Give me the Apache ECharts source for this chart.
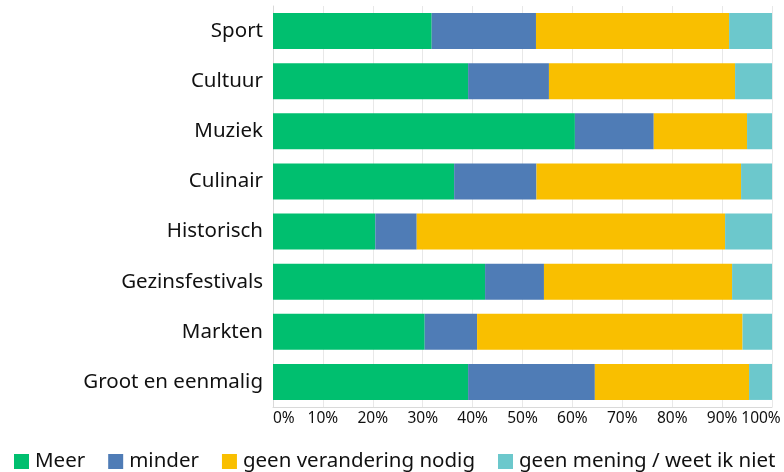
<!DOCTYPE html>
<html>
<head>
<meta charset="utf-8">
<script src="https://cdn.jsdelivr.net/npm/echarts@6/dist/echarts.min.js"></script>
<style>
  html, body { margin: 0; padding: 0; background: #fff; }
  #chart { width: 784px; height: 472px; }
</style>
</head>
<body>
<div id="chart"></div>
<script>
// categorieen, van boven naar beneden
var categories = ['Sport', 'Cultuur', 'Muziek', 'Culinair', 'Historisch', 'Gezinsfestivals', 'Markten', 'Groot en eenmalig'];
var seriesNames = ['Meer', 'minder', 'geen verandering nodig', 'geen mening / weet ik niet'];

// percentages per categorie
var meer = [31.8, 39.1, 60.5, 36.3, 20.5, 42.5, 30.4, 39.1];
var minder = [20.9, 16.2, 15.8, 16.5, 8.3, 11.8, 10.5, 25.4];
var geenVerandering = [38.7, 37.3, 18.7, 41.0, 61.8, 37.7, 53.2, 30.9];
var geenMening = [8.6, 7.4, 5.0, 6.2, 9.4, 8.0, 5.9, 4.6];

var colors = ['#00BF6F', '#4F7CB6', '#F9BF00', '#6CC8CC'];

var chart = echarts.init(document.getElementById('chart'));

var allData = [meer, minder, geenVerandering, geenMening];
var series = [];
for (var i = 0; i < allData.length; i++) {
    series.push({
        name: seriesNames[i],
        type: 'bar',
        stack: 'totaal',
        barWidth: 36,
        data: allData[i],
        itemStyle: { color: colors[i] }
    });
}

var option = {
    animation: false,
    color: colors,
    textStyle: { fontFamily: 'Noto Sans' },
    grid: {
        left: 273,
        right: 12,
        top: 6,
        bottom: 65
    },
    legend: {
        left: 9,
        top: 446,
        icon: 'rect',
        itemWidth: 15,
        itemHeight: 15,
        itemGap: 23,
        textStyle: { fontSize: 20.5, color: '#111', fontFamily: 'Noto Sans', padding: [0, 0, 0, 1] },
        data: seriesNames
    },
    xAxis: {
        type: 'value',
        min: 0,
        max: 100,
        interval: 10,
        axisLine: { show: true, lineStyle: { color: '#d9d9d9' } },
        axisTick: { show: false },
        splitLine: { show: true, lineStyle: { color: '#e8e8e8' } },
        axisLabel: {
            fontSize: 15.5,
            color: '#111',
            margin: 4,
            hideOverlap: false,
            showMaxLabel: true,
            alignMinLabel: 'left',
            formatter: function (v) {
                if (v === 100) return '{m|100%}';
                return v + '%';
            },
            rich: {
                m: { fontSize: 15.5, color: '#111', padding: [0, 22, 0, 0] }
            }
        }
    },
    yAxis: {
        type: 'category',
        inverse: true,
        data: categories,
        axisLine: { show: true, lineStyle: { color: '#d9d9d9' } },
        axisTick: { show: false },
        axisLabel: { fontSize: 20.5, color: '#111', margin: 10, padding: [3, 0, 0, 0] }
    },
    series: series
};

chart.setOption(option);
</script>
</body>
</html>
